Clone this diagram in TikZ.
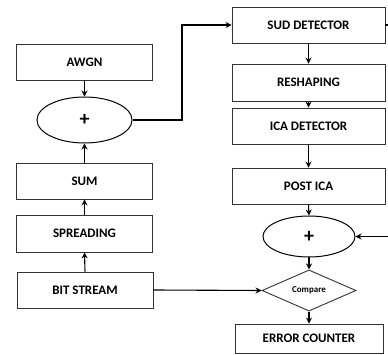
\documentclass[tikz,border=0pt]{standalone}
\usepackage{fontspec}
\setmainfont{Carlito}
\usetikzlibrary{shapes.geometric,arrows.meta}

\begin{document}
\begin{tikzpicture}[x=1pt,y=-1pt,
  blk/.style={draw=black!80, line width=0.9pt, inner sep=0pt,
    font=\bfseries\fontsize{13}{15}\selectfont},
  lbox/.style={blk, minimum width=136pt, minimum height=36pt},
  rbox/.style={blk, minimum width=153pt, minimum height=36pt},
  adder/.style={ellipse, draw=black, line width=1pt, inner sep=0pt,
    font=\bfseries\fontsize{20}{22}\selectfont},
  link/.style={line width=1.1pt, -{Stealth[length=6pt,width=6pt,inset=2pt]}},
  plain/.style={line width=1.1pt}]
\useasboundingbox (0,0) rectangle (388,355);

% transmitter chain
\node[lbox] (awgn)   at (84.5,62)  {AWGN};
\node[adder, minimum width=95pt, minimum height=46pt] (add1) at (84.5,120) {+};
\node[lbox] (sum)    at (84.5,181) {SUM};
\node[lbox, minimum height=37pt] (spread) at (84.5,233.5) {SPREADING};
\node[lbox] (bits)   at (85,290)   {BIT STREAM};

% receiver chain
\node[rbox, minimum height=36pt] (sud)  at (308.5,25)  {SUD DETECTOR};
\node[rbox, minimum height=37pt] (resh) at (308.5,82.5) {RESHAPING};
\node[rbox] (ica)  at (308.5,126) {ICA DETECTOR};
\node[rbox] (post) at (308.5,186) {POST ICA};
\node[adder, minimum width=92pt, minimum height=41pt] (add2) at (309,236.5) {+};
\node[diamond, draw=black!80, line width=0.9pt, inner sep=0pt,
  minimum width=94pt, minimum height=37pt,
  font=\bfseries\fontsize{9}{10}\selectfont] (cmp) at (309,290.5) {Compare};
\node[blk, minimum width=148pt, minimum height=29pt] (err) at (309,338.5) {ERROR COUNTER};

% off-page ends
\coordinate (sudout) at (388,25);
\coordinate (fbin)   at (388,236.5);

% connectors
\draw[link] (awgn.south) -- (add1.north);
\draw[link] (sum.north) -- (add1.south);
\draw[link] (spread.north) -- (sum.south);
\draw[link] (bits.north) -- (spread.south);
\draw[link] (add1.east) -| (182,60) |- (sud.west);
\draw[plain] (sud.east) -- (sudout);
\draw[link] (sud.south) -- (resh.north);
\draw[link] (resh.south) -- (ica.north);
\draw[link] (ica.south) -- (post.north);
\draw[link] (post.south) -- (add2.north);
\draw[link] (fbin) -- (add2.east);
\draw[link] (add2.south) -- (cmp.north);
\draw[link] (bits.east) -- (cmp.west);
\draw[link] (cmp.south) -- (err.north);
\end{tikzpicture}
\end{document}
